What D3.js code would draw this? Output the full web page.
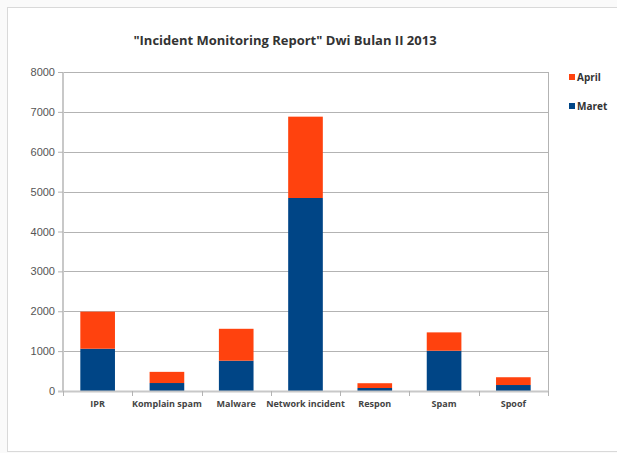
<!DOCTYPE html>
<html>
<head>
<meta charset="utf-8">
<script src="https://cdn.jsdelivr.net/npm/d3@7"></script>
<style>
  body { margin: 0; background: #fafafa; }
  svg { display: block; }
</style>
</head>
<body>
<svg id="chart" width="617" height="453"></svg>
<script>
// chart data
const categories = ["IPR", "Komplain spam", "Malware", "Network incident", "Respon", "Spam", "Spoof"];
const maret = [1060, 200, 760, 4840, 75, 1010, 150];
const april = [930, 280, 800, 2040, 120, 460, 195];
const yTicks = [0, 1000, 2000, 3000, 4000, 5000, 6000, 7000, 8000];
const seriesNames = ["Maret", "April"];
const colors = { Maret: "#004586", April: "#ff420e" };

const svg = d3.select("#chart");

// white card
svg.append("rect")
    .attr("x", 7.5).attr("y", 7.5)
    .attr("width", 640).attr("height", 444)
    .attr("fill", "#fff")
    .attr("stroke", "#d9d9d9");

const plot = { left: 63, right: 548, top: 72, bottom: 391 };

const x = d3.scaleBand()
    .domain(categories)
    .range([plot.left, plot.right])
    .paddingInner(0.5)
    .paddingOuter(0.25);

const y = d3.scaleLinear()
    .domain([0, 8000])
    .range([plot.bottom, plot.top]);

// grid lines
svg.append("g")
    .selectAll("line")
    .data(yTicks.filter(d => d > 0))
    .enter()
    .append("line")
    .attr("x1", plot.left).attr("x2", plot.right)
    .attr("y1", d => Math.round(y(d)) + 0.5)
    .attr("y2", d => Math.round(y(d)) + 0.5)
    .attr("stroke", "#b3b3b3");

// right border of plot
svg.append("line")
    .attr("x1", plot.right + 0.5).attr("x2", plot.right + 0.5)
    .attr("y1", plot.top).attr("y2", plot.bottom)
    .attr("stroke", "#b3b3b3");

// stacked bars
const table = categories.map((c, i) => ({ cat: c, Maret: maret[i], April: april[i] }));
const stacked = d3.stack().keys(seriesNames)(table);

svg.append("g")
    .selectAll("g")
    .data(stacked)
    .enter()
    .append("g")
    .attr("fill", d => colors[d.key])
    .selectAll("rect")
    .data(d => d)
    .enter()
    .append("rect")
    .attr("x", d => x(d.data.cat))
    .attr("width", x.bandwidth())
    .attr("y", d => y(d[1]))
    .attr("height", d => y(d[0]) - y(d[1]));

// y axis
const yAxis = svg.append("g")
    .attr("transform", `translate(${plot.left},0)`)
    .call(d3.axisLeft(y).tickValues(yTicks).tickSize(5).tickPadding(3).tickFormat(d3.format("d")));
yAxis.select(".domain").attr("stroke", "#c8c8c8").attr("stroke-width", 2).attr("d", `M0,${plot.top}V${plot.bottom + 1}`);
yAxis.selectAll(".tick line").attr("stroke", "#b3b3b3");
yAxis.selectAll("text")
    .attr("fill", "#555")
    .style("font-family", "'Liberation Sans', Arial, sans-serif")
    .style("font-size", "11px");

// x axis
const xAxis = svg.append("g")
    .attr("transform", `translate(0,${plot.bottom})`);
xAxis.append("line")
    .attr("x1", plot.left - 5).attr("x2", plot.right + 1)
    .attr("y1", 0.5).attr("y2", 0.5)
    .attr("stroke", "#c8c8c8").attr("stroke-width", 2);
const step = x.step();
xAxis.selectAll(".sep")
    .data(d3.range(categories.length + 1))
    .enter()
    .append("line")
    .attr("x1", i => Math.round(plot.left + i * (plot.right - plot.left) / categories.length) + 0.5)
    .attr("x2", i => Math.round(plot.left + i * (plot.right - plot.left) / categories.length) + 0.5)
    .attr("y1", 0).attr("y2", 5)
    .attr("stroke", "#b3b3b3");
xAxis.selectAll("text")
    .data(categories)
    .enter()
    .append("text")
    .attr("x", d => x(d) + x.bandwidth() / 2)
    .attr("y", 16)
    .attr("text-anchor", "middle")
    .attr("fill", "#444")
    .style("font-family", "'Open Sans', sans-serif")
    .style("font-weight", "bold")
    .style("font-size", "9px")
    .text(d => d);

// title
svg.append("text")
    .attr("x", 285).attr("y", 45)
    .attr("text-anchor", "middle")
    .attr("fill", "#333")
    .style("font-family", "'Open Sans', sans-serif")
    .style("font-weight", "bold")
    .style("font-size", "13px")
    .text('"Incident Monitoring Report" Dwi Bulan II 2013');

// legend
const legend = svg.append("g");
["April", "Maret"].forEach((name, i) => {
    const ly = 78 + i * 29;
    legend.append("rect")
        .attr("x", 569).attr("y", ly - 4)
        .attr("width", 6).attr("height", 6)
        .attr("fill", colors[name]);
    legend.append("text")
        .attr("x", 577).attr("y", ly + 3)
        .attr("fill", "#333")
        .style("font-family", "'Open Sans', sans-serif")
        .style("font-weight", "bold")
        .style("font-size", "10px")
        .text(name);
});
</script>
</body>
</html>
